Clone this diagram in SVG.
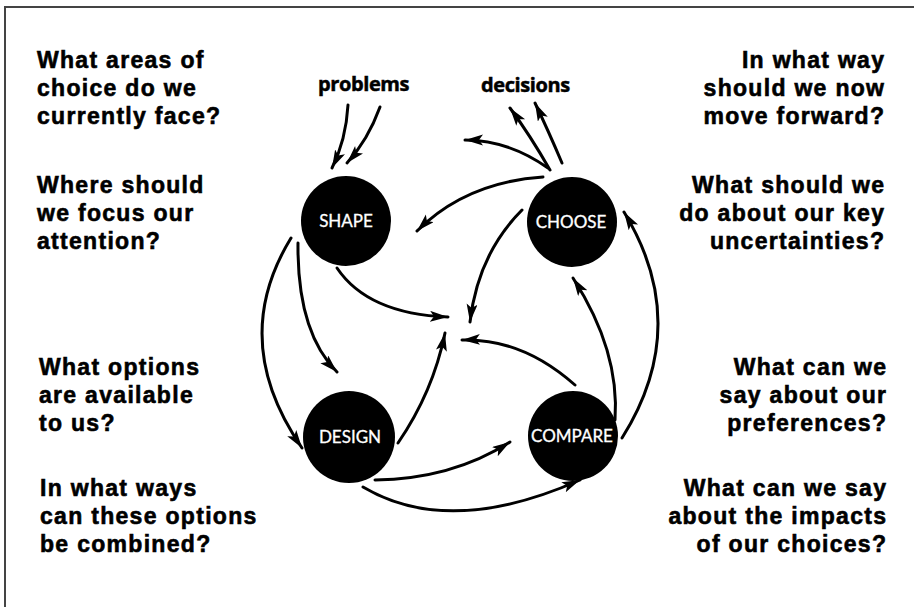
<svg xmlns="http://www.w3.org/2000/svg" width="914" height="607" viewBox="0 0 914 607">
  <style>
    .q { font-family: "Liberation Sans", Arial, sans-serif; font-weight: bold; font-size: 23px; letter-spacing: 1.3px; fill: #000; stroke: #000; stroke-width: 0.6px; }
    .r { text-anchor: end; }
    .flow { font-family: "Open Sans", "Noto Sans", sans-serif; font-weight: bold; font-size: 20px; letter-spacing: -0.4px; fill: #000; stroke: #000; stroke-width: 0.5px; }
    .node circle { fill: #000; }
    .node text { font-family: Lato, "Open Sans", sans-serif; font-size: 17px; fill: #fff; stroke: #fff; stroke-width: 0.3px; text-anchor: middle; }
    .arrow { fill: none; stroke: #000; stroke-width: 3; stroke-linecap: round; marker-end: url(#head); }
    .frame { stroke: #444; stroke-width: 2; fill: none; }
  </style>
  <defs>
    <marker id="head" markerUnits="userSpaceOnUse" markerWidth="22" markerHeight="12" refX="18" refY="5.5" orient="auto">
      <path d="M0,0 L18,5.5 L0,11 L4,5.5 Z" fill="#000"/>
    </marker>
  </defs>

  <rect width="914" height="607" fill="#fff"/>
  <path class="frame" d="M5,607 V7 H914"/>

  <!-- questions, left column -->
  <g id="questions-left">
    <text class="q" x="37" y="68">What areas of</text>
    <text class="q" x="37" y="96">choice do we</text>
    <text class="q" x="37" y="124">currently face?</text>
    <text class="q" x="37" y="193">Where should</text>
    <text class="q" x="37" y="221">we focus our</text>
    <text class="q" x="37" y="249">attention?</text>
    <text class="q" x="39" y="375">What options</text>
    <text class="q" x="39" y="403">are available</text>
    <text class="q" x="39" y="431">to us?</text>
    <text class="q" x="40" y="496">In what ways</text>
    <text class="q" x="40" y="524">can these options</text>
    <text class="q" x="40" y="552">be combined?</text>
  </g>

  <!-- questions, right column -->
  <g id="questions-right">
    <text class="q r" x="885.3" y="68">In what way</text>
    <text class="q r" x="885.3" y="96">should we now</text>
    <text class="q r" x="885.3" y="124">move forward?</text>
    <text class="q r" x="885.3" y="193">What should we</text>
    <text class="q r" x="885.3" y="221">do about our key</text>
    <text class="q r" x="885.3" y="249">uncertainties?</text>
    <text class="q r" x="887.3" y="375">What can we</text>
    <text class="q r" x="887.3" y="403">say about our</text>
    <text class="q r" x="887.3" y="431">preferences?</text>
    <text class="q r" x="887.3" y="496">What can we say</text>
    <text class="q r" x="887.3" y="524">about the impacts</text>
    <text class="q r" x="887.3" y="552">of our choices?</text>
  </g>

  <g id="label-problems"><text class="flow" x="318" y="91">problems</text></g>
  <g id="label-decisions"><text class="flow" x="481" y="92">decisions</text></g>

  <!-- connectors -->
  <g id="connectors">
    <path class="arrow" d="M348,105 Q346,140 332,168"/>
    <path class="arrow" d="M380,107 Q368,140 347,163"/>
    <path class="arrow" d="M550,170 Q530,135 510,108"/>
    <path class="arrow" d="M562,163 Q548,130 535,103"/>
    <path class="arrow" d="M548,168 Q508,140 465,140"/>
    <path class="arrow" d="M543,177 Q466,182 417,231"/>
    <path class="arrow" d="M291,238 Q228,341 302,448"/>
    <path class="arrow" d="M298,243 Q297,332 337,372"/>
    <path class="arrow" d="M337,268 Q368,314 448,317"/>
    <path class="arrow" d="M398,443 Q433,392 445,333"/>
    <path class="arrow" d="M522,210 Q478,254 470,322"/>
    <path class="arrow" d="M575,385 Q522,338 462,340"/>
    <path class="arrow" d="M615,420 Q620,351 573,278"/>
    <path class="arrow" d="M622,438 Q693,325 624,212"/>
    <path class="arrow" d="M375,480 Q452,479 510,442"/>
    <path class="arrow" d="M363,487 Q449,538 580,480"/>
  </g>

  <!-- stages -->
  <g id="shape" class="node">
    <circle cx="346" cy="221" r="45"/>
    <text x="346" y="227">SHAPE</text>
  </g>
  <g id="choose" class="node">
    <circle cx="572" cy="222" r="45"/>
    <text x="571" y="228">CHOOSE</text>
  </g>
  <g id="design" class="node">
    <circle cx="349" cy="437" r="46"/>
    <text x="350" y="443">DESIGN</text>
  </g>
  <g id="compare" class="node">
    <circle cx="573" cy="436" r="45"/>
    <text x="572" y="442">COMPARE</text>
  </g>
</svg>
